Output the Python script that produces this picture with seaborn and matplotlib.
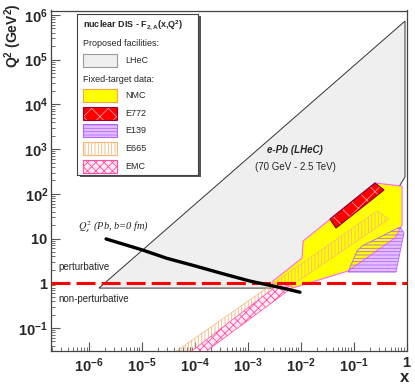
import numpy as np
import matplotlib
matplotlib.use("Agg")
import matplotlib.pyplot as plt
from matplotlib.patches import Rectangle
from matplotlib.ticker import LogLocator, NullFormatter
import seaborn as sns

# kinematic regions (x, Q^2)
lhec_x = [1.54e-6, 0.937, 0.937, 0.754, 0.3, 0.012, 3.3e-3]
lhec_q2 = [0.78, 7.3e5, 238, 157, 30, 1.3, 0.78]
nmc_x = [2.87e-3, 2.99e-3, 0.0106, 0.0111, 0.254, 0.822, 0.822, 0.606, 0.0784, 3.41e-3]
nmc_q2 = [0.635, 1.12, 3.66, 8.8, 175, 149, 20, 10.3, 1.88, 0.60]
e772_x = [0.0358, 0.254, 0.376, 0.0465]
e772_q2 = [27.3, 175, 122, 17.2]
e139_x = [0.0784, 0.633, 0.897, 0.754, 0.144, 0.116]
e139_q2 = [1.78, 1.78, 13.3, 18.1, 6.8, 5.25]
e665_x = [2.7e-5, 0.277, 0.467, 6.1e-5]
e665_q2 = [0.02, 41.2, 27.3, 0.02]
emc_x = [5.5e-5, 4.06e-3, 7.15e-3, 1.03e-4]
emc_q2 = [0.02, 1.0, 0.82, 0.02]

# saturation scale Q_s^2 (Pb, b=0)
qs_x = [2.1e-6, 1.0e-5, 3.0e-5, 1.0e-4, 3.0e-4, 1.1e-3, 4.6e-3, 9.7e-3]
qs_q2 = [9.8, 5.6, 3.6, 2.45, 1.7, 1.12, 0.78, 0.63]

x_ticks = [1e-6, 1e-5, 1e-4, 1e-3, 1e-2, 1e-1, 1]
x_labels = ["10^{-6}", "10^{-5}", "10^{-4}", "10^{-3}", "10^{-2}", "10^{-1}", "1"]
y_ticks = [1e-1, 1, 10, 1e2, 1e3, 1e4, 1e5, 1e6]
y_labels = ["10^{-1}", "1", "10", "10^{2}", "10^{3}", "10^{4}", "10^{5}", "10^{6}"]

legend_names = ["LHeC", "NMC", "E772", "E139", "E665", "EMC"]

sns.set_style("white")
plt.rcParams["font.family"] = ["Liberation Sans", "DejaVu Sans"]
plt.rcParams["mathtext.fontset"] = "custom"
plt.rcParams["mathtext.rm"] = "Liberation Sans"
plt.rcParams["mathtext.it"] = "Liberation Sans:italic"
plt.rcParams["mathtext.bf"] = "Liberation Sans:bold"
plt.rcParams["hatch.linewidth"] = 0.6

W, H = 415, 390
fig = plt.figure(figsize=(W / 100, H / 100), dpi=100)
ax = fig.add_axes([51 / W, 1 - 350.7 / H, 355.5 / W, 340.2 / H])
ax.set_xscale("log")
ax.set_yscale("log")
ax.set_xlim(10 ** -6.718, 1)
ax.set_ylim(10 ** -1.508, 10 ** 6.1)

# styles for each region
styles = {
    "LHeC": dict(facecolor="#efefef", edgecolor="#333333", hatch=None),
    "NMC": dict(facecolor="#ffff00", edgecolor="#ff66ff", hatch=None),
    "E772": dict(facecolor="#ff0000", edgecolor="#ff9a9a", hatch="xx"),
    "E139": dict(facecolor="#e4bfff", edgecolor="#b266ff", hatch="-----"),
    "E665": dict(facecolor="none", edgecolor="#f7b77a", hatch="|||||"),
    "EMC": dict(facecolor="#ffe8f2", edgecolor="#ff4da6", hatch="xxxx"),
}

ax.fill(lhec_x, lhec_q2, facecolor="#efefef", edgecolor="#333333", lw=0.7, zorder=1)
ax.fill(e139_x, e139_q2, facecolor="#e4bfff", edgecolor="none", zorder=1.5)
ax.fill(nmc_x, nmc_q2, facecolor="#ffff00", edgecolor="#ff66ff", lw=0.8, zorder=2)
ax.fill(e139_x, e139_q2, facecolor="none", edgecolor="#b266ff", hatch="-----", lw=0.6, zorder=3)
ax.fill(e772_x, e772_q2, facecolor="#ff0000", edgecolor="#ff9a9a", hatch="xx", lw=0, zorder=3)
ax.fill(e772_x, e772_q2, facecolor="none", edgecolor="#880033", lw=0.8, zorder=3)
ax.fill(e665_x, e665_q2, facecolor="none", edgecolor="#f7b77a", hatch="|||||", lw=0.5, zorder=3.5)
ax.fill(emc_x, emc_q2, facecolor="#ffe8f2", edgecolor="#ff4da6", hatch="xxxx", lw=0.5, zorder=3.6)

ax.axhline(1.0, color="#ff0000", lw=2.2, dashes=(6.2, 2.0), zorder=5)
sns.lineplot(x=qs_x, y=qs_q2, ax=ax, color="black", lw=2.4, sort=False, zorder=6)

ax.text(7.8e-3, 955, "e-Pb (LHeC)", ha="center", va="center", fontsize=7,
        weight="bold", style="italic")
ax.text(7.8e-3, 398, "(70 GeV - 2.5 TeV)", ha="center", va="center", fontsize=7)
ax.text(2.7e-7, 2.3, "perturbative", ha="left", va="center", fontsize=7)
ax.text(2.6e-7, 0.44, "non-perturbative", ha="left", va="center", fontsize=7)
ax.text(6.2e-7, 18, r"$Q_s^2$ (Pb, b=0 fm)", ha="left", va="center", fontsize=7.5,
        family="Liberation Serif", style="italic", math_fontfamily="stix")

# axes, ROOT-like ticks
for s in ax.spines.values():
    s.set_color("#444444")
    s.set_linewidth(0.9)
ax.xaxis.set_minor_locator(LogLocator(base=10, subs=np.arange(2, 10), numticks=20))
ax.yaxis.set_minor_locator(LogLocator(base=10, subs=np.arange(2, 10), numticks=20))
ax.xaxis.set_minor_formatter(NullFormatter())
ax.yaxis.set_minor_formatter(NullFormatter())
ax.set_xticks(x_ticks, labels=[r"$\mathbf{%s}$" % t for t in x_labels])
ax.set_yticks(y_ticks, labels=[r"$\mathbf{%s}$" % t for t in y_labels])
ax.tick_params(which="major", direction="in", length=6.5, width=0.8, color="#555555",
               labelsize=10.5, top=False, right=False, bottom=True, left=True)
ax.tick_params(which="minor", direction="in", length=3.2, width=0.6, color="#555555",
               top=False, right=False, bottom=True, left=True)
ax.tick_params(axis="x", which="major", pad=4)
ax.tick_params(axis="y", which="major", pad=2)
ax.set_xlabel("")
ax.set_ylabel("")

fig.text(13 / W, 1 - 3 / H, r"$\mathbf{Q^2\ (GeV^2)}$", rotation=90, ha="center",
         va="top", fontsize=10)
fig.text(405 / W, 1 - 377 / H, "x", ha="center", va="center", fontsize=12, weight="bold")

# legend box drawn by hand (pixel coords inside)
fig.add_artist(Rectangle((79.5 / W, 1 - 177.5 / H), 121 / W, 161 / H,
                         transform=fig.transFigure, facecolor="#555555",
                         edgecolor="none", zorder=2))
lax = fig.add_axes([77 / W, 1 - 175 / H, 121 / W, 161 / H])
lax.set_zorder(3)
lax.set_xlim(0, 121)
lax.set_ylim(161, 0)
lax.set_xticks([])
lax.set_yticks([])
lax.set_facecolor("white")
for s in lax.spines.values():
    s.set_color("#444444")
    s.set_linewidth(0.8)

lax.text(6, 11, r"nuclear DIS - F$_{\mathbf{2,A}}$(x,Q$^{\mathbf{2}}$)", fontsize=6.5,
         weight="bold", va="center", ha="left")
lax.text(6, 29, "Proposed facilities:", fontsize=6.5, va="center", ha="left")
lax.text(6, 65, "Fixed-target data:", fontsize=6.5, va="center", ha="left")
box_tops = [40, 75, 93, 110, 128, 146]
legend_edges = {"LHeC": "#999999", "NMC": "#ffa040", "E772": "#990033",
                "E139": "#b266ff", "E665": "#f7b77a", "EMC": "#ff4da6"}
for name, top in zip(legend_names, box_tops):
    st = styles[name]
    lax.add_patch(Rectangle((6, top), 34, 13, facecolor=st["facecolor"],
                            edgecolor=st["edgecolor"], hatch=st["hatch"], lw=0))
    lax.add_patch(Rectangle((6, top), 34, 13, facecolor="none",
                            edgecolor=legend_edges[name], lw=0.8))
    lax.text(48, top + 6.5, name, fontsize=6.5, va="center", ha="left")

fig.savefig("out.png", dpi=100)
